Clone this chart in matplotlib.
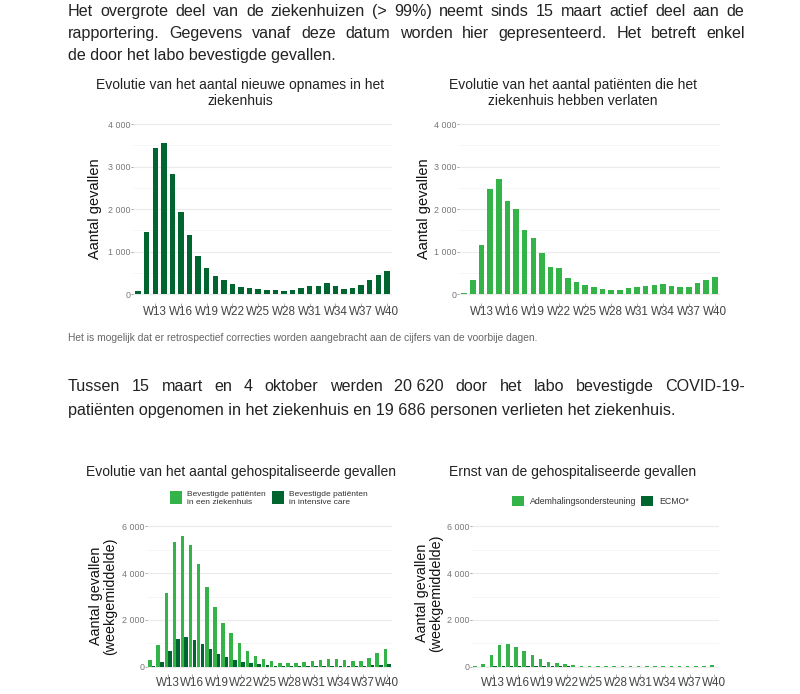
import matplotlib
matplotlib.use('Agg')
import matplotlib.pyplot as plt
from matplotlib.ticker import FuncFormatter, MultipleLocator

plt.rcParams['font.family'] = ['Liberation Sans', 'DejaVu Sans']

W, H = 800, 694
DARK = '#00652f'
LIGHT = '#34b349'
TEXT = '#222222'

# data, weeks W11 .. W40
weeks = [f'W{w}' for w in range(11, 41)]
tick_weeks = ['W13', 'W16', 'W19', 'W22', 'W25', 'W28', 'W31', 'W34', 'W37', 'W40']

new_admissions = [63, 1470, 3445, 3545, 2820, 1925, 1400, 890, 620, 430,
                  335, 240, 170, 140, 117, 95, 85, 75, 95, 130,
                  180, 200, 250, 180, 115, 130, 215, 325, 455, 550]
discharged = [20, 320, 1150, 2460, 2715, 2190, 1990, 1495, 1320, 955,
              640, 620, 385, 290, 210, 165, 125, 100, 105, 130,
              160, 195, 215, 230, 195, 155, 160, 250, 325, 410]
hospitalised = [280, 920, 3130, 5300, 5580, 5200, 4380, 3400, 2570, 1860,
                1440, 1000, 700, 470, 330, 260, 185, 155, 155, 200,
                255, 300, 330, 330, 285, 240, 270, 385, 580, 765]
icu = [40, 200, 690, 1190, 1270, 1140, 975, 760, 550, 410,
       300, 220, 150, 110, 80, 60, 45, 40, 40, 40,
       45, 50, 55, 60, 60, 55, 55, 65, 90, 140]
resp_support = [20, 140, 500, 920, 970, 830, 680, 490, 340, 230,
                160, 110, 70, 45, 30, 25, 20, 20, 20, 25,
                30, 35, 45, 50, 45, 40, 40, 50, 60, 80]
ecmo = [2, 5, 20, 40, 55, 60, 60, 55, 45, 35,
        25, 20, 15, 12, 10, 8, 6, 5, 5, 5,
        5, 6, 6, 7, 7, 6, 6, 7, 8, 10]

x = list(range(1, len(weeks) + 1))
tick_pos = [weeks.index(w) + 1 for w in tick_weeks]


def px_axes(fig, x0, x1, y0, y1):
    return fig.add_axes([x0 / W, 1 - y1 / H, (x1 - x0) / W, (y1 - y0) / H])


def thousands(v, pos):
    return f'{int(v):,}'.replace(',', ' ')


def style_axes(ax, ymax, major):
    ax.set_xlim(0.4, len(weeks) + 0.6)
    ax.set_ylim(-ymax * 0.05, ymax * 1.05)
    ax.yaxis.set_minor_locator(MultipleLocator(major / 2))
    ax.yaxis.set_major_formatter(FuncFormatter(thousands))
    ax.set_yticks([v for v in range(0, ymax + 1, major)])
    ax.grid(axis='y', which='major', color='#ebebeb', lw=0.8)
    ax.grid(axis='y', which='minor', color='#f4f4f4', lw=0.6)
    ax.set_axisbelow(True)
    for s in ax.spines.values():
        s.set_visible(False)
    ax.set_xticks(tick_pos)
    ax.set_xticklabels(tick_weeks)
    ax.tick_params(axis='x', length=2, width=0.6, color='#999999', pad=0.5,
                   labelsize=8.4, labelcolor='#444444')
    ax.tick_params(axis='y', which='major', length=1.5, width=0.6, color='#999999',
                   pad=0.5, labelsize=6.4, labelcolor='#777777')
    ax.tick_params(axis='y', which='minor', length=0)


def justify(fig, words, x0, x1, y, **kw):
    # y is the baseline in pixels from the top
    r = fig.canvas.get_renderer()
    texts = [fig.text(0, 1 - y / H, w, va='baseline', ha='left', **kw) for w in words]
    widths = [t.get_window_extent(r).width for t in texts]
    gap = (x1 - x0 - sum(widths)) / (len(words) - 1)
    pos = x0
    for t, w in zip(texts, widths):
        t.set_x(pos / W)
        pos += w + gap


fig = plt.figure(figsize=(W / 100, H / 100), dpi=100)

# intro text
body = dict(fontsize=11.6, color=TEXT)
justify(fig, 'Het overgrote deel van de ziekenhuizen (> 99%) neemt sinds 15 maart actief deel aan de'.split(' '),
        68, 744, 16, **body)
justify(fig, 'rapportering. Gegevens vanaf deze datum worden hier gepresenteerd. Het betreft enkel'.split(' '),
        68, 745, 38, **body)
fig.text(68 / W, 1 - 60 / H, 'de door het labo bevestigde gevallen.', va='baseline', **body)

# top left
ax1 = px_axes(fig, 133, 392, 115.5, 302.5)
ax1.bar(x, new_admissions, width=0.64, color=DARK)
style_axes(ax1, 4000, 1000)
fig.text(240 / W, 1 - 93 / H, 'Evolutie van het aantal nieuwe opnames in het\nziekenhuis',
         ha='center', va='center', fontsize=10, color=TEXT)
fig.text(95 / W, 1 - 209 / H, 'Aantal gevallen', rotation=90, ha='center', va='center',
         fontsize=10.5, color='#111111')

# top right
ax2 = px_axes(fig, 459, 720, 115.5, 302.5)
ax2.bar(x, discharged, width=0.64, color=LIGHT)
style_axes(ax2, 4000, 1000)
fig.text(573 / W, 1 - 93 / H, 'Evolutie van het aantal patiënten die het\nziekenhuis hebben verlaten',
         ha='center', va='center', fontsize=10, color=TEXT)
fig.text(424 / W, 1 - 209 / H, 'Aantal gevallen', rotation=90, ha='center', va='center',
         fontsize=10.5, color='#111111')

# notes
fig.text(68 / W, 1 - 338 / H,
         'Het is mogelijk dat er retrospectief correcties worden aangebracht aan de cijfers van de voorbije dagen.',
         va='center', fontsize=7.4, color='#666666')
justify(fig, 'Tussen 15 maart en 4 oktober werden 20\u00a0620 door het labo bevestigde COVID-19-'.split(' '),
        68, 745, 391, **body)
fig.text(68 / W, 1 - 415 / H,
         'patiënten opgenomen in het ziekenhuis en 19 686 personen verlieten het ziekenhuis.',
         va='baseline', **body)

# bottom left
bw = 0.45
ax3 = px_axes(fig, 147, 392, 519, 674)
b1 = ax3.bar([i - bw / 2 for i in x], hospitalised, width=bw * 0.96, color=LIGHT)
b2 = ax3.bar([i + bw / 2 for i in x], icu, width=bw * 0.96, color=DARK)
style_axes(ax3, 6000, 2000)
fig.text(241 / W, 1 - 472 / H, 'Evolutie van het aantal gehospitaliseerde gevallen',
         ha='center', va='center', fontsize=10, color=TEXT)
fig.text(103 / W, 1 - 596 / H, 'Aantal gevallen\n(weekgemiddelde)', rotation=90, ha='center',
         va='center', fontsize=10.3, color='#111111', linespacing=1.0)
fig.legend([b1, b2], ['Bevestigde patiënten\nin een ziekenhuis', 'Bevestigde patiënten\nin intensive care'],
           loc='center left', bbox_to_anchor=(170 / W, 1 - 498 / H), ncol=2, frameon=False,
           fontsize=6, handlelength=1.45, handleheight=2.0, handletextpad=0.6,
           columnspacing=0.7, borderpad=0, borderaxespad=0, labelcolor='#333333')

# bottom right
ax4 = px_axes(fig, 472, 719, 519, 674)
b3 = ax4.bar([i - bw / 2 for i in x], resp_support, width=bw * 0.96, color=LIGHT)
b4 = ax4.bar([i + bw / 2 for i in x], ecmo, width=bw * 0.96, color=DARK)
style_axes(ax4, 6000, 2000)
fig.text(573 / W, 1 - 472 / H, 'Ernst van de gehospitaliseerde gevallen',
         ha='center', va='center', fontsize=10, color=TEXT)
fig.text(429 / W, 1 - 593 / H, 'Aantal gevallen\n(weekgemiddelde)', rotation=90, ha='center',
         va='center', fontsize=10.3, color='#111111', linespacing=1.0)
fig.legend([b3, b4], ['Ademhalingsondersteuning', 'ECMO*'],
           loc='center left', bbox_to_anchor=(512 / W, 1 - 501 / H), ncol=2, frameon=False,
           fontsize=6.3, handlelength=1.4, handleheight=1.4, handletextpad=0.7,
           columnspacing=0.5, borderpad=0, borderaxespad=0, labelcolor='#333333')

fig.savefig('out.png', dpi=100)
